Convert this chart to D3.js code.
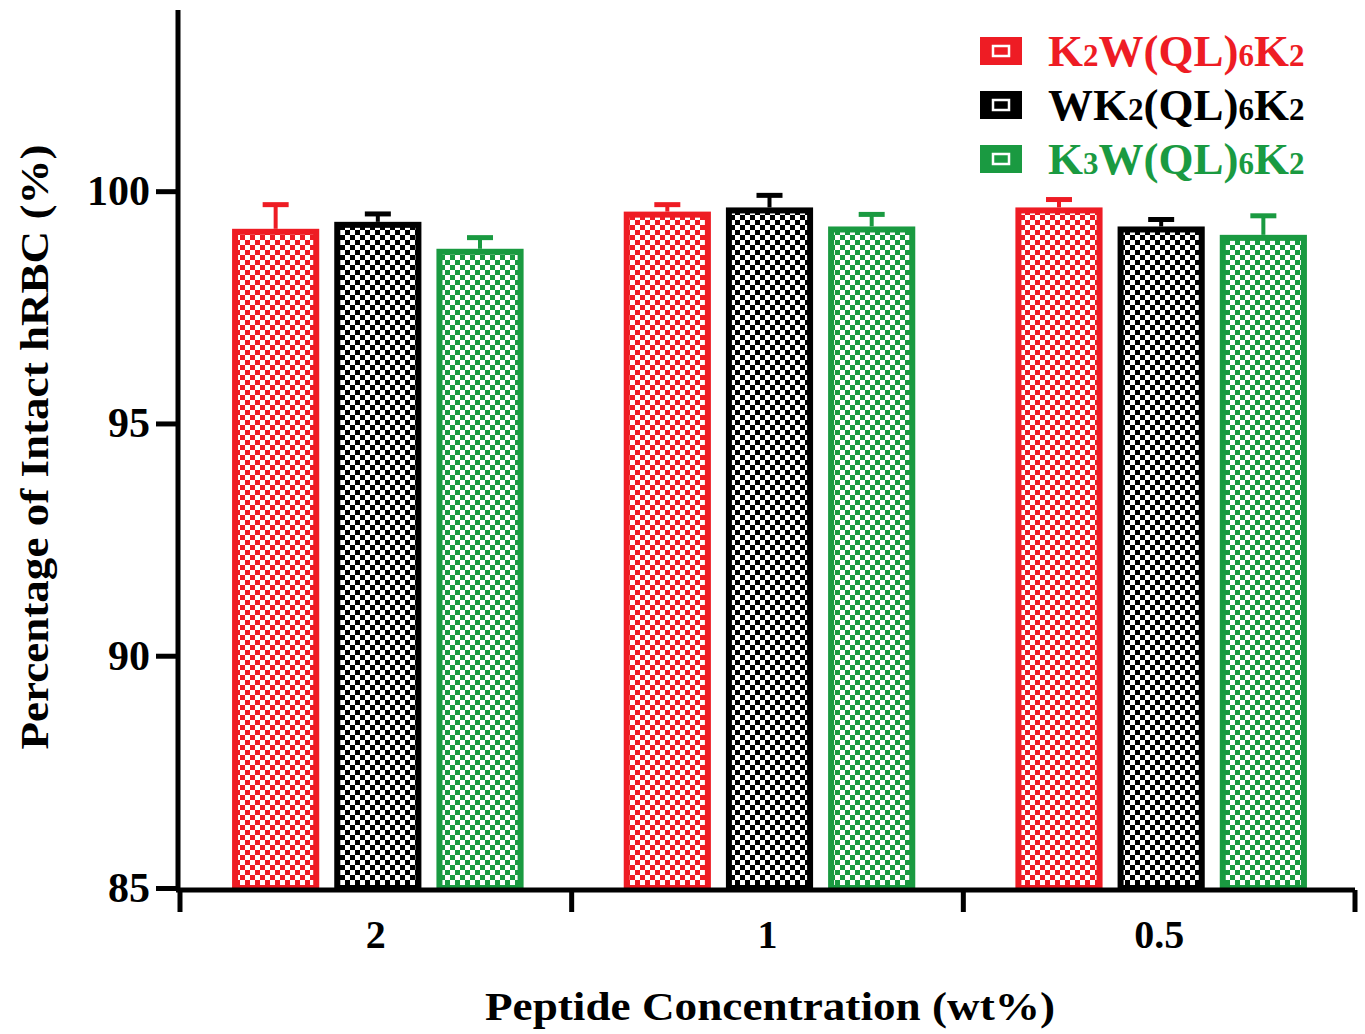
<!DOCTYPE html>
<html>
<head>
<meta charset="utf-8">
<script src="https://cdn.jsdelivr.net/npm/d3@7"></script>
<style>
  body { margin: 0; background: #fff; }
  text { font-family: "Liberation Serif", "Times New Roman", serif; font-weight: bold; }
</style>
</head>
<body>
<script>
// data
var concentrations = ["2", "1", "0.5"];
var seriesNames = ["K2W(QL)6K2", "WK2(QL)6K2", "K3W(QL)6K2"];
var seriesColors = ["#ee1c24", "#000000", "#1a9a41"];
var meanK2W = [99.19, 99.56, 99.65];
var meanWK2 = [99.34, 99.65, 99.24];
var meanK3W = [98.76, 99.24, 99.06];
var errK2W = [0.52, 0.15, 0.17];
var errWK2 = [0.17, 0.26, 0.15];
var errK3W = [0.24, 0.26, 0.41];
var yTicks = [85, 90, 95, 100];

var means = [meanK2W, meanWK2, meanK3W];
var errs = [errK2W, errWK2, errK3W];

var w = 1365, h = 1034;
var mLeft = 180, mRight = 1355, mTop = 10, mBottom = 888;

var svg = d3.select("body").append("svg")
  .attr("width", w).attr("height", h);

// checker patterns, one per colour
var cell = 5;
var defs = svg.append("defs");
seriesColors.forEach(function(c, i) {
  var p = defs.append("pattern")
    .attr("id", "chk" + i)
    .attr("patternUnits", "userSpaceOnUse")
    .attr("width", cell * 2).attr("height", cell * 2);
  p.append("rect").attr("width", cell * 2).attr("height", cell * 2).attr("fill", c);
  p.append("rect").attr("x", 0).attr("y", 0).attr("width", cell).attr("height", cell).attr("fill", "#fff");
  p.append("rect").attr("x", cell).attr("y", cell).attr("width", cell).attr("height", cell).attr("fill", "#fff");
});

var y = d3.scaleLinear().domain([85, 103.9]).range([mBottom, mTop]);
var x0 = d3.scaleBand().domain(concentrations).range([mLeft, mRight]).padding(0);
var x1 = d3.scaleBand().domain(d3.range(3)).range([2, x0.bandwidth() + 2])
  .paddingInner(0.147).paddingOuter(0.49);

var rows = [];
concentrations.forEach(function(c, ci) {
  for (var s = 0; s < 3; s++) rows.push({c: c, s: s, v: means[s][ci], e: errs[s][ci]});
});

var sw = 6;
var g = svg.append("g");
function cx(d) { return x0(d.c) + x1(d.s) + x1.bandwidth() / 2; }

// error bars (behind bars)
g.selectAll("line.err")
  .data(rows).enter().append("line")
  .attr("x1", cx).attr("x2", cx)
  .attr("y1", function(d) { return y(d.v); })
  .attr("y2", function(d) { return y(d.v + d.e); })
  .attr("stroke", function(d) { return seriesColors[d.s]; })
  .attr("stroke-width", 4);
g.selectAll("line.cap")
  .data(rows).enter().append("line")
  .attr("x1", function(d) { return cx(d) - 13; })
  .attr("x2", function(d) { return cx(d) + 13; })
  .attr("y1", function(d) { return y(d.v + d.e); })
  .attr("y2", function(d) { return y(d.v + d.e); })
  .attr("stroke", function(d) { return seriesColors[d.s]; })
  .attr("stroke-width", 5);

g.selectAll("rect.bar")
  .data(rows).enter().append("rect")
  .attr("x", function(d) { return x0(d.c) + x1(d.s) + sw / 2; })
  .attr("y", function(d) { return y(d.v) + sw / 2; })
  .attr("width", x1.bandwidth() - sw)
  .attr("height", function(d) { return mBottom - y(d.v) - sw / 2; })
  .attr("fill", function(d) { return "url(#chk" + d.s + ")"; })
  .attr("stroke", function(d) { return seriesColors[d.s]; })
  .attr("stroke-width", sw);

// axes
var yAxis = svg.append("g")
  .attr("transform", "translate(" + (mLeft - 2) + ",0)")
  .call(d3.axisLeft(y).tickValues(yTicks).tickSize(22).tickPadding(6).tickFormat(d3.format("d")));
yAxis.select(".domain").attr("stroke-width", 5).attr("d", "M0," + mTop + "V" + (mBottom + 2));
yAxis.selectAll(".tick line").attr("stroke-width", 5);
yAxis.selectAll(".tick text").attr("font-size", 42).attr("fill", "#000")
  .attr("font-family", "Liberation Serif").attr("font-weight", "bold");

var xAxis = svg.append("g")
  .attr("transform", "translate(0," + (mBottom + 2) + ")")
  .call(d3.axisBottom(x0).tickSize(0).tickPadding(30));
xAxis.select(".domain").attr("stroke-width", 5).attr("d", "M" + (mLeft - 4) + ",0H" + mRight);
xAxis.selectAll(".tick text").attr("font-size", 40).attr("fill", "#000")
  .attr("font-family", "Liberation Serif").attr("font-weight", "bold");
// tick marks at band boundaries
var bounds = concentrations.map(function(c) { return x0(c); }).concat([mRight]);
xAxis.selectAll("line.bt")
  .data(bounds).enter().append("line")
  .attr("x1", function(d) { return d; }).attr("x2", function(d) { return d; })
  .attr("y1", 0).attr("y2", 22)
  .attr("stroke", "#000").attr("stroke-width", 5);

// axis titles
svg.append("text")
  .attr("transform", "translate(48,447) rotate(-90)")
  .attr("text-anchor", "middle")
  .attr("font-size", 40)
  .attr("textLength", 605).attr("lengthAdjust", "spacingAndGlyphs")
  .text("Percentage of Intact hRBC (%)");
svg.append("text")
  .attr("x", 770).attr("y", 1020)
  .attr("text-anchor", "middle")
  .attr("font-size", 40)
  .attr("textLength", 570).attr("lengthAdjust", "spacingAndGlyphs")
  .text("Peptide Concentration (wt%)");

// legend
var legParts = [
  [["K", 0], ["2", 1], ["W(QL)", 0], ["6", 1], ["K", 0], ["2", 1]],
  [["WK", 0], ["2", 1], ["(QL)", 0], ["6", 1], ["K", 0], ["2", 1]],
  [["K", 0], ["3", 1], ["W(QL)", 0], ["6", 1], ["K", 0], ["2", 1]]
];
var leg = svg.append("g");
seriesNames.forEach(function(n, i) {
  var yy = 37 + i * 54;
  leg.append("rect")
    .attr("x", 980).attr("y", yy).attr("width", 42).attr("height", 28)
    .attr("fill", seriesColors[i]);
  leg.append("rect")
    .attr("x", 993).attr("y", yy + 9).attr("width", 16).attr("height", 10)
    .attr("fill", "none").attr("stroke", "#fff").attr("stroke-width", 2.5);
  var t = leg.append("text")
    .attr("x", 1048).attr("y", yy + 29)
    .attr("font-size", 45)
    .attr("fill", seriesColors[i]);
  legParts[i].forEach(function(p) {
    t.append("tspan").attr("font-size", p[1] ? 31 : 45).text(p[0]);
  });
});
</script>
</body>
</html>
